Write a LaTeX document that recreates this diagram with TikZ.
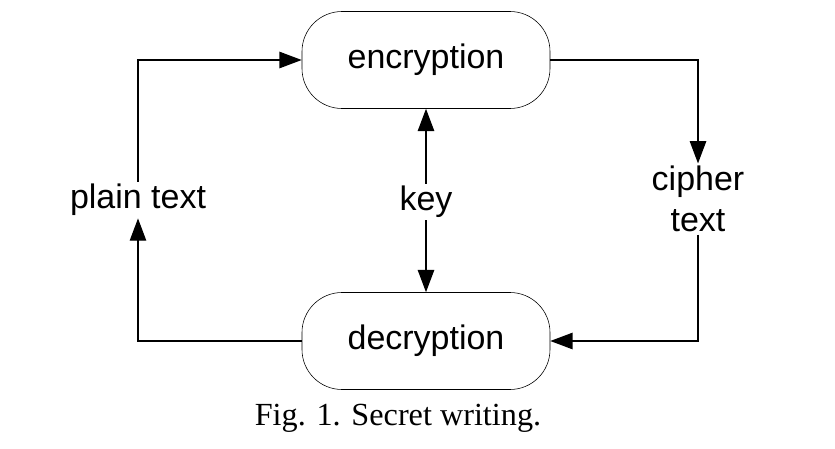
\documentclass[tikz,border=0pt]{standalone}
\usepackage{fontspec}
\setmainfont{Liberation Serif}
\newfontfamily\sansf{Liberation Sans}
\usetikzlibrary{arrows.meta}
\begin{document}
\begin{tikzpicture}[x=0.03cm,y=-0.03cm,
  box/.style={draw,line width=0.5pt,rounded corners=1.2cm,minimum width=248*0.03cm,minimum height=97*0.03cm,font=\sansf\fontsize{29}{33}\selectfont},
  lbl/.style={font=\sansf\fontsize{29}{33}\selectfont,align=center,inner sep=2pt},
  arr/.style={line width=1.1pt,-{Triangle[length=19pt,width=14pt]}}]
\useasboundingbox (0,0) rectangle (835,449);
\node[box] (enc) at (426,60) {encryption};
\node[box] (dec) at (426,341) {decryption};
\node[lbl] (plain) at (138,200) {plain text};
\node[lbl] (cipher) at (698,199) {cipher\\[2pt]text};
\node[lbl] (key) at (426,202) {key};
\node[font=\fontsize{27.5}{32}\selectfont] (cap) at (398,418) {Fig. 1. Secret writing.};
\draw[arr] (plain.north) |- (enc.west);
\draw[arr] (enc.east) -| (cipher.north);
\draw[arr] (cipher.south) |- (dec.east);
\draw[arr] (dec.west) -| (plain.south);
\draw[arr] (key.north) -- (enc.south);
\draw[arr] (key.south) -- (dec.north);
\end{tikzpicture}
\end{document}
